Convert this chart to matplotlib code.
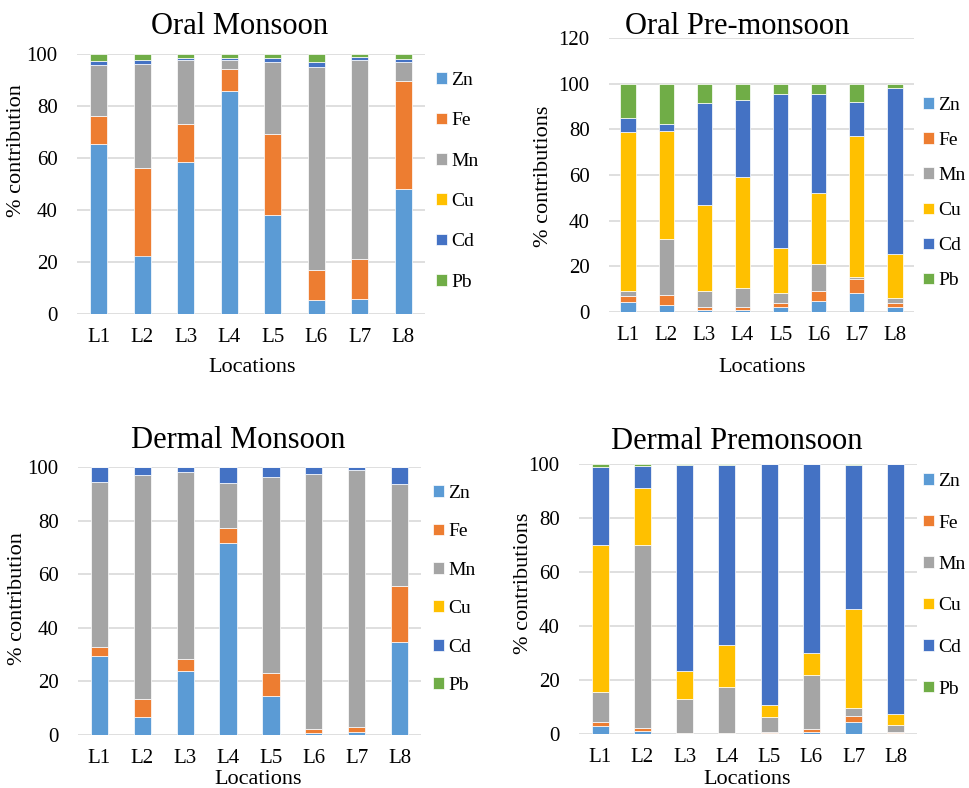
import numpy as np
import matplotlib
matplotlib.use("Agg")
import matplotlib.pyplot as plt

SERIF = ['Liberation Serif', 'DejaVu Serif']
plt.rcParams['font.family'] = SERIF

locations = ["L1", "L2", "L3", "L4", "L5", "L6", "L7", "L8"]
metals = ["Zn", "Fe", "Mn", "Cu", "Cd", "Pb"]
colors = ["#5B9BD5", "#ED7D31", "#A5A5A5", "#FFC000", "#4472C4", "#70AD47"]

# rows follow metals order: Zn, Fe, Mn, Cu, Cd, Pb
oral_monsoon = [
    [65.2, 22.5, 58.5, 85.7, 37.9, 5.4, 5.8, 48.0],
    [11.0, 33.5, 14.7, 8.7, 31.5, 11.4, 15.5, 41.5],
    [19.4, 40.2, 24.6, 3.2, 27.5, 78.2, 76.5, 7.4],
    [0, 0, 0, 0, 0, 0, 0, 0],
    [1.7, 1.6, 0.8, 0.9, 1.4, 2.0, 0.9, 1.3],
    [2.7, 2.2, 1.4, 1.5, 1.7, 3.0, 1.3, 1.8],
]
oral_premonsoon = [
    [4.2, 3.1, 1.0, 0.9, 2.3, 4.7, 8.3, 2.0],
    [3.0, 4.3, 1.3, 1.3, 1.6, 4.5, 6.2, 1.9],
    [2.1, 24.6, 7.0, 8.3, 4.4, 11.8, 0.8, 2.2],
    [69.5, 47.4, 37.6, 48.5, 19.6, 31.1, 61.8, 19.3],
    [6.2, 2.8, 44.6, 33.8, 67.6, 43.2, 14.9, 72.7],
    [15.0, 17.8, 8.5, 7.2, 4.5, 4.7, 8.0, 1.9],
]
dermal_monsoon = [
    [29.4, 6.7, 23.8, 71.8, 14.4, 0.7, 1.0, 34.6],
    [3.6, 6.9, 4.4, 5.5, 8.6, 1.5, 2.0, 21.1],
    [61.3, 83.3, 69.8, 16.6, 73.3, 95.3, 95.8, 37.8],
    [0, 0, 0, 0, 0, 0, 0, 0],
    [5.6, 3.1, 2.0, 6.1, 3.7, 2.5, 1.2, 6.4],
    [0.1, 0, 0, 0, 0, 0, 0, 0.1],
]
dermal_premonsoon = [
    [3.0, 1.0, 0.1, 0.1, 0.2, 0.8, 4.3, 0.2],
    [1.3, 1.3, 0.4, 0.4, 0.4, 0.9, 2.4, 0.4],
    [11.3, 67.8, 12.3, 16.8, 5.8, 20.0, 3.1, 2.6],
    [54.5, 21.0, 10.7, 15.8, 4.2, 8.3, 36.6, 4.2],
    [28.7, 8.3, 76.1, 66.5, 89.4, 70.0, 53.2, 92.6],
    [1.2, 0.6, 0.4, 0.4, 0.0, 0.0, 0.4, 0.0],
]

W, H = 969, 788
fig = plt.figure(figsize=(W / 100, H / 100), dpi=100)


def px(x, y):
    return x / W, 1 - y / H


def panel(rect, data, title, tpos, ylabel, ypos, xlpos, ymax, leg_xy, leg_space):
    l, t, r, b = rect
    ax = fig.add_axes([l / W, 1 - b / H, (r - l) / W, (b - t) / H])
    x = np.arange(len(locations))
    bottom = np.zeros(len(locations))
    for name, vals, c in zip(metals, data, colors):
        vals = np.array(vals)
        ax.bar(x, vals, 0.4, bottom=bottom, color=c, label=name,
               edgecolor="white", linewidth=0.5, zorder=3)
        bottom += vals
    ax.set_xlim(-0.5, len(locations) - 0.5)
    ax.set_ylim(0, ymax)
    ax.set_yticks(np.arange(0, ymax + 1, 20))
    ax.set_xticks(x)
    ax.set_xticklabels(locations)
    ax.grid(axis="y", color="#D9D9D9", linewidth=1.2, zorder=0)
    for s in ax.spines.values():
        s.set_visible(False)
    ax.tick_params(length=0, labelsize=15)
    ax.tick_params(axis="x", pad=10)
    ax.tick_params(axis="y", pad=14)
    for lab in ax.get_xticklabels() + ax.get_yticklabels():
        lab.set_family(SERIF)
    fig.text(*px(*tpos), title, fontsize=22, ha="center", va="center", family=SERIF)
    fig.text(*px(*ypos), ylabel, fontsize=16, rotation=90, ha="center", va="center",
             family=SERIF)
    fig.text(*px(*xlpos), "Locations", fontsize=16, ha="center", va="center", family=SERIF)
    ax.legend(loc="upper left", bbox_to_anchor=px(*leg_xy), bbox_transform=fig.transFigure,
              frameon=False, prop={"family": SERIF, "size": 14},
              handlelength=0.55, handleheight=0.55,
              handletextpad=0.25, labelspacing=leg_space, borderaxespad=0, borderpad=0)
    return ax


panel((77, 54, 425, 314), oral_monsoon, "Oral Monsoon", (240, 27),
      "% contribution", (17, 151), (252, 367), 100, (436, 72), 1.2)
panel((609, 38, 914, 312), oral_premonsoon, "Oral Pre-monsoon", (737, 27),
      "% contributions", (543, 176), (762, 367), 120, (923, 97), 0.93)
panel((78, 467, 421, 735), dermal_monsoon, "Dermal Monsoon", (238, 440),
      "% contribution", (18, 599), (258, 779), 100, (433, 485), 1.1)
panel((579, 464, 917, 734), dermal_premonsoon, "Dermal Premonsoon", (737, 441),
      "% contributions", (523, 583), (747, 779), 100, (923, 473), 1.26)

fig.savefig("out.png", dpi=100)
